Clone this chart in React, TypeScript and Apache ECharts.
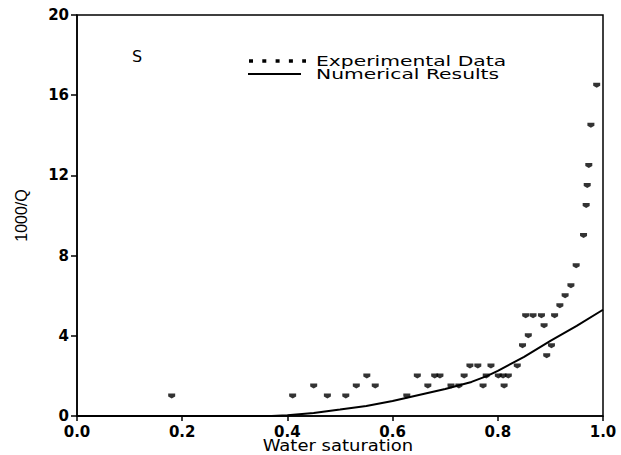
import React, { useEffect, useRef } from "react";
import * as echarts from "echarts";

// Measured points: water saturation vs. 1000/Q
const saturationExp = [
  0.18, 0.41, 0.45, 0.476, 0.511, 0.531, 0.551, 0.567,
  0.627, 0.647, 0.667, 0.68, 0.69,
  0.711, 0.726, 0.736, 0.747, 0.762,
  0.772, 0.778, 0.787, 0.801, 0.81, 0.82, 0.812,
  0.837, 0.847, 0.853, 0.867, 0.883,
  0.858, 0.888, 0.893, 0.902, 0.908,
  0.918, 0.928, 0.939, 0.949, 0.963,
  0.968, 0.97, 0.973, 0.977, 0.988,
];
const invQExp = [
  1.0, 1.0, 1.5, 1.0, 1.0, 1.5, 2.0, 1.5,
  1.0, 2.0, 1.5, 2.0, 2.0,
  1.5, 1.5, 2.0, 2.5, 2.5,
  1.5, 2.0, 2.5, 2.0, 2.0, 2.0, 1.5,
  2.5, 3.5, 5.0, 5.0, 5.0,
  4.0, 4.5, 3.0, 3.5, 5.0,
  5.5, 6.0, 6.5, 7.5, 9.0,
  10.5, 11.5, 12.5, 14.5, 16.5,
];

// Model curve
const saturationNum = [0, 0.37, 0.4, 0.45, 0.5, 0.55, 0.6, 0.65, 0.7, 0.75, 0.78, 0.8, 0.85, 0.9, 0.95, 1.0];
const invQNum = [0, 0, 0.04, 0.15, 0.32, 0.5, 0.75, 1.05, 1.35, 1.7, 2.0, 2.25, 2.95, 3.75, 4.5, 5.3];

const xTicks = ["0.0", "0.2", "0.4", "0.6", "0.8", "1.0"];
const yTicks = ["0", "4", "8", "12", "16", "20"];

const legendLabels = ["Experimental Data", "Numerical Results"];
const panelLabel = "S";
const xTitle = "Water saturation";
const yTitle = "1000/Q";

const FONT = "DejaVu Sans";

export default function App() {
  const ref = useRef<HTMLDivElement>(null);

  useEffect(() => {
    if (!ref.current) return;
    const chart = echarts.init(ref.current, null, { renderer: "svg" });

    const expData = saturationExp.map((x, i) => [x, invQExp[i]]);
    const numData = saturationNum.map((x, i) => [x, invQNum[i]]);

    chart.setOption({
      animation: false,
      backgroundColor: "#fff",
      grid: {
        left: 77,
        right: 18,
        top: 15,
        bottom: 39,
        show: true,
        borderColor: "#000",
        borderWidth: 1.5,
      },
      xAxis: {
        type: "value",
        min: 0,
        max: 1,
        interval: 0.2,
        axisLine: { show: true, lineStyle: { color: "#000", width: 1.5 } },
        axisTick: { show: true, length: 5, lineStyle: { color: "#000", width: 1.5 } },
        splitLine: { show: false },
        axisLabel: {
          color: "#000",
          fontFamily: FONT,
          fontSize: 15,
          fontWeight: "bold",
          margin: 8,
          formatter: (v: number) => xTicks[Math.round(v / 0.2)] ?? "",
        },
      },
      yAxis: {
        type: "value",
        min: 0,
        max: 20,
        interval: 4,
        name: yTitle,
        nameLocation: "middle",
        nameGap: 48,
        nameTextStyle: { color: "#000", fontFamily: "Liberation Sans", fontSize: 16 },
        axisLine: { show: true, lineStyle: { color: "#000", width: 1.5 } },
        axisTick: { show: true, length: 6, lineStyle: { color: "#000", width: 1.5 } },
        splitLine: { show: false },
        axisLabel: {
          color: "#000",
          fontFamily: FONT,
          fontSize: 15,
          fontWeight: "bold",
          margin: 8,
          formatter: (v: number) => yTicks[Math.round(v / 4)] ?? "",
        },
      },
      series: [
        {
          name: legendLabels[1],
          type: "line",
          data: numData,
          showSymbol: false,
          lineStyle: { color: "#000", width: 2 },
          z: 2,
        },
        {
          name: legendLabels[0],
          type: "scatter",
          data: expData,
          symbol: "path://M0,0 L7,0 L7,3 L3.5,5 L0,3 Z",
          symbolSize: [7, 5],
          itemStyle: { color: "#000" },
          z: 3,
        },
      ],
      graphic: [
        {
          type: "text",
          x: 137,
          y: 56,
          style: {
            text: panelLabel,
            fontFamily: FONT,
            fontSize: 16,
            fill: "#000",
            align: "center",
            verticalAlign: "middle",
          },
        },
        {
          type: "line",
          shape: { x1: 249, y1: 61, x2: 306, y2: 61 },
          style: { stroke: "#000", lineWidth: 3.5, lineDash: [4, 9.3] },
        },
        {
          type: "line",
          shape: { x1: 248, y1: 74, x2: 301, y2: 74 },
          style: { stroke: "#000", lineWidth: 2 },
        },
        {
          type: "text",
          x: 316,
          y: 61,
          scaleX: 1.45,
          style: {
            text: legendLabels[0],
            fontFamily: FONT,
            fontSize: 14,
            fill: "#000",
            align: "left",
            verticalAlign: "middle",
          },
        },
        {
          type: "text",
          x: 316,
          y: 74,
          scaleX: 1.45,
          style: {
            text: legendLabels[1],
            fontFamily: FONT,
            fontSize: 14,
            fill: "#000",
            align: "left",
            verticalAlign: "middle",
          },
        },
        {
          type: "text",
          x: 338,
          y: 446,
          scaleX: 1.2,
          style: {
            text: xTitle,
            fontFamily: FONT,
            fontSize: 15,
            fill: "#000",
            align: "center",
            verticalAlign: "middle",
          },
        },
      ],
    });

    return () => chart.dispose();
  }, []);

  return (
    <div
      ref={ref}
      style={{ position: "fixed", left: 0, top: 0, width: 621, height: 455 }}
    />
  );
}
